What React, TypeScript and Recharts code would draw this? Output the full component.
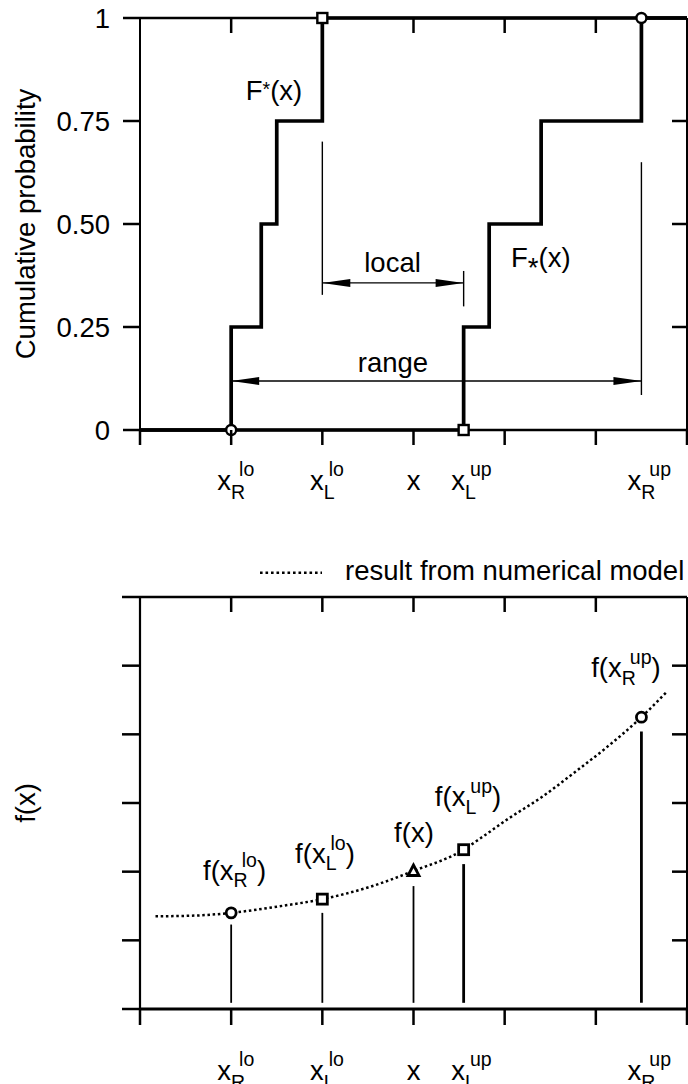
import React from 'react';
import { ComposedChart, Line, Scatter, XAxis, YAxis, ReferenceLine, Legend } from 'recharts';

const FONT = '"Liberation Sans", Arial, Helvetica, sans-serif';
const MAIN_SIZE = 27.5;
const SMALL_SIZE = 19.5;
const INK = '#000';

// plot frame shared by both panels
const CHART_W = 688;
const AXIS_W = 140;
const FRAME_TICK = 15;

// ---- shared x layout: six equal units ----
const xMax = 6;
const xOuterTicks = [0, 1, 2, 3, 4, 5, 6];
const xInnerTicks = [1, 2, 3, 4, 5];

// interval bounds on the x axis and their labels
const boundX = [1.0, 2.0, 3.0, 3.55, 5.5];
const boundSub = ['R', 'L', '', 'L', 'R'];
const boundSup = ['lo', 'lo', '', 'up', 'up'];
const xAxisTicks = Array.from(new Set([...xOuterTicks, ...boundX])).sort((a, b) => a - b);

// ---- upper panel: bounds of the cumulative distribution ----
const pMax = 1;
const pTicks = [0, 0.25, 0.5, 0.75, 1];
const pTickLabels = ['0', '0.25', '0.50', '0.75', '1'];
const pInnerTicks = [0.25, 0.5, 0.75];

const upperStepX = [0, 1.0, 1.33, 1.5, 2.0, 6];
const upperStepP = [0, 0.25, 0.5, 0.75, 1, 1];
const lowerStepX = [0, 3.55, 3.83, 4.4, 5.5, 6];
const lowerStepP = [0, 0.25, 0.5, 0.75, 1, 1];

const cdfMarkX = [1.0, 2.0, 3.55, 5.5];
const cdfMarkP = [0, 1, 0, 1];
const cdfMarkShape = ['circle', 'square', 'square', 'circle'];

// dimension lines for the local and range intervals
const localP = 0.357;
const localFrom = 2.0;
const localTo = 3.55;
const rangeP = 0.119;
const rangeFrom = 1.0;
const rangeTo = 5.5;
const extensionX = [2.0, 3.55, 5.5];
const extensionLow = [0.328, 0.3, 0.085];
const extensionHigh = [0.7, 0.386, 0.65];

// text annotations of the upper panel
const cdfNoteX = [1.47, 4.396, 2.77, 2.775];
const cdfNoteP = [0.801, 0.396, 0.384, 0.1415];
const cdfNoteBase = ['F', 'F', 'local', 'range'];
const cdfNoteSup = ['*', '', '', ''];
const cdfNoteSub = ['', '*', '', ''];
const cdfNotePost = ['(x)', '(x)', '', ''];

// ---- lower panel: model response ----
const fMax = 6;
const fTicks = [0, 1, 2, 3, 4, 5, 6];
const fInnerTicks = [1, 2, 3, 4, 5];
const curveX = [0.17, 0.6, 1.0, 1.5, 2.0, 2.5, 3.0, 3.55, 3.75, 4.05, 4.4, 4.8, 5.1, 5.5, 5.78];
const curveF = [1.35, 1.36, 1.4, 1.49, 1.6, 1.77, 2.01, 2.32, 2.5, 2.78, 3.08, 3.48, 3.79, 4.25, 4.62];

const sampleF = [1.4, 1.6, 2.01, 2.32, 4.25];
const sampleShape = ['circle', 'square', 'triangle', 'square', 'circle'];
const stemBaseF = 0.09;
const stemTopF = [1.23, 1.4, 1.79, 2.11, 4.04];

const fLabelX = [1.037, 2.029, 3.005, 3.598, 5.33];
const fLabelF = [1.88, 2.127, 2.43, 2.95, 4.83];

// ---- rows built from the arrays ----
const upperStepData = upperStepX.map((x, i) => ({ x, p: upperStepP[i] }));
const lowerStepData = lowerStepX.map((x, i) => ({ x, p: lowerStepP[i] }));
const cdfMarks = cdfMarkX.map((x, i) => ({ x, p: cdfMarkP[i], shape: cdfMarkShape[i] }));
const arrowHeads = [
  { x: localFrom, p: localP, dir: 'left' },
  { x: localTo, p: localP, dir: 'right' },
  { x: rangeFrom, p: rangeP, dir: 'left' },
  { x: rangeTo, p: rangeP, dir: 'right' },
];
const cdfNotes = cdfNoteX.map((x, i) => ({
  x,
  p: cdfNoteP[i],
  base: cdfNoteBase[i],
  sup: cdfNoteSup[i],
  sub: cdfNoteSub[i],
  post: cdfNotePost[i],
}));
const curveData = curveX.map((x, i) => ({ x, f: curveF[i] }));
const samples = boundX.map((x, i) => ({ x, f: sampleF[i], shape: sampleShape[i] }));
const sampleNotes = fLabelX.map((x, i) => ({ x, f: fLabelF[i], sub: boundSub[i], sup: boundSup[i] }));

// anchor points of the inward ticks on the top and right frame edges
function frameTickAnchors(key: string, yMax: number, yInner: number[]) {
  const top = xInnerTicks.map((t) => ({ x: t, [key]: yMax, edge: 'top' }));
  const right = yInner.map((v) => ({ x: xMax, [key]: v, edge: 'right' }));
  return [...top, ...right];
}
const cdfFrameTicks = frameTickAnchors('p', pMax, pInnerTicks);
const responseFrameTicks = frameTickAnchors('f', fMax, fInnerTicks);

// ---- text with stacked sub/superscripts ----
type MathProps = {
  x: number;
  y: number;
  anchor?: 'start' | 'middle' | 'end';
  pre?: string;
  base: string;
  sub?: string;
  sup?: string;
  post?: string;
  subDy?: number;
  supDy?: number;
  subSize?: number;
  supSize?: number;
  backDx?: number;
};

function MathText({
  x, y, anchor = 'middle', pre = '', base, sub = '', sup = '', post = '',
  subDy = 8, supDy = -14, subSize = SMALL_SIZE, supSize = SMALL_SIZE, backDx = -6,
}: MathProps) {
  let off = 0;
  const parts: React.ReactNode[] = [<tspan key="b">{pre + base}</tspan>];
  if (sub) {
    parts.push(<tspan key="sub" dy={subDy - off} fontSize={subSize}>{sub}</tspan>);
    off = subDy;
  }
  if (sup) {
    parts.push(
      <tspan key="sup" dx={sub ? backDx : 0} dy={supDy - off} fontSize={supSize}>{sup}</tspan>
    );
    off = supDy;
  }
  if (post) {
    parts.push(<tspan key="post" dy={-off}>{post}</tspan>);
  }
  return (
    <text x={x} y={y} textAnchor={anchor} fontFamily={FONT} fontSize={MAIN_SIZE} fill={INK}>
      {parts}
    </text>
  );
}

const SUB_WIDTH: Record<string, number> = { R: 0.722, L: 0.556 };

// x axis tick: outward mark below and bound label
function XTick(props: any) {
  const { payload, drop, outLen } = props;
  const x = Number(props.x);
  const y = Number(props.y);
  const v = Number(payload?.value);
  const bi = boundX.indexOf(v);
  const sub = bi >= 0 ? boundSub[bi] : '';
  const sup = bi >= 0 ? boundSup[bi] : '';
  const subW = sub ? (SUB_WIDTH[sub] ?? 0.6) * SMALL_SIZE : 0;
  const start = x - (0.5 * MAIN_SIZE + subW) / 2;
  return (
    <g>
      {xOuterTicks.includes(v) && <line x1={x} x2={x} y1={y} y2={y + outLen} stroke={INK} strokeWidth={2.5} />}
      {bi >= 0 && (
        <MathText x={start} y={y + drop} anchor="start" base="x" sub={sub} sup={sup} subDy={9} supDy={-14.5} />
      )}
    </g>
  );
}

// y axis tick: outward mark on the left and value label
function YTick(props: any) {
  const { payload, values, labels, outLen } = props;
  const x = Number(props.x);
  const y = Number(props.y);
  const v = Number(payload?.value);
  const i = values.indexOf(v);
  const label = labels && i >= 0 ? labels[i] : '';
  return (
    <g>
      <line x1={x - outLen} x2={x} y1={y} y2={y} stroke={INK} strokeWidth={2.5} />
      {label && (
        <text x={x - outLen - 13} y={y} dy="0.355em" textAnchor="end" fontFamily={FONT} fontSize={MAIN_SIZE} fill={INK}>
          {label}
        </text>
      )}
    </g>
  );
}

// inward tick on the top or right frame edge
function FrameTick(props: any) {
  const { cx, cy, payload } = props;
  if (cx == null || cy == null) return <g />;
  if (payload.edge === 'top') {
    return <line x1={cx} x2={cx} y1={cy} y2={cy + FRAME_TICK} stroke={INK} strokeWidth={2.5} />;
  }
  return <line x1={cx - FRAME_TICK} x2={cx} y1={cy} y2={cy} stroke={INK} strokeWidth={2.5} />;
}

function AxisTitle(props: any) {
  const { viewBox, text } = props;
  const cx = (viewBox?.x ?? 0) + 35;
  const cy = (viewBox?.y ?? 0) + (viewBox?.height ?? 0) / 2;
  return (
    <text
      x={cx}
      y={cy}
      transform={`rotate(-90, ${cx}, ${cy})`}
      textAnchor="middle"
      fontFamily={FONT}
      fontSize={MAIN_SIZE}
      fill={INK}
    >
      {text}
    </text>
  );
}

function Marker(props: any) {
  const { cx, cy, payload, sw = 2.5 } = props;
  if (cx == null || cy == null) return <g />;
  const s = payload.shape;
  if (s === 'circle') return <circle cx={cx} cy={cy} r={5} fill="#fff" stroke={INK} strokeWidth={sw} />;
  if (s === 'square')
    return <rect x={cx - 5} y={cy - 5} width={10} height={10} fill="#fff" stroke={INK} strokeWidth={sw} />;
  return (
    <polygon
      points={`${cx},${cy - 6} ${cx - 5.5},${cy + 4.5} ${cx + 5.5},${cy + 4.5}`}
      fill="#fff"
      stroke={INK}
      strokeWidth={sw}
      strokeLinejoin="miter"
    />
  );
}

function ArrowHead(props: any) {
  const { cx, cy, payload } = props;
  if (cx == null || cy == null) return <g />;
  const d = payload.dir === 'left' ? 1 : -1;
  return <polygon points={`${cx},${cy} ${cx + d * 28},${cy - 4} ${cx + d * 28},${cy + 4}`} fill={INK} />;
}

function CdfNote(props: any) {
  const { cx, cy, payload } = props;
  if (cx == null || cy == null) return <g />;
  return (
    <MathText
      x={cx}
      y={cy}
      base={payload.base}
      sup={payload.sup}
      sub={payload.sub}
      post={payload.post}
      supDy={-4}
      supSize={SMALL_SIZE}
      subDy={10}
      subSize={MAIN_SIZE}
    />
  );
}

function SampleNote(props: any) {
  const { cx, cy, payload } = props;
  if (cx == null || cy == null) return <g />;
  return (
    <MathText x={cx} y={cy} pre="f(" base="x" sub={payload.sub} sup={payload.sup} post=")" subDy={7.5} supDy={-13} />
  );
}

function ModelLegend() {
  return (
    <svg width={440} height={34} style={{ display: 'block' }}>
      <line x1={10} x2={72} y1={17.7} y2={17.7} stroke={INK} strokeWidth={2.6} strokeDasharray="2.6 2.9" />
      <text x={95} y={25} fontFamily={FONT} fontSize={MAIN_SIZE} fill={INK}>
        result from numerical model
      </text>
    </svg>
  );
}

const lineStyle = (w: number) => ({ stroke: INK, strokeWidth: w });

function CdfPanel() {
  return (
    <ComposedChart width={CHART_W} height={505} margin={{ top: 18, right: 1, bottom: 60, left: 0 }}>
      <XAxis
        xAxisId={0}
        dataKey="x"
        type="number"
        domain={[0, xMax]}
        ticks={xAxisTicks}
        interval={0}
        tickSize={0}
        tickMargin={0}
        tickLine={false}
        height={15}
        axisLine={lineStyle(2.5)}
        tick={<XTick drop={60} outLen={15} />}
      />
      <XAxis
        xAxisId="top"
        orientation="top"
        mirror
        type="number"
        domain={[0, xMax]}
        allowDataOverflow
        tick={false}
        tickLine={false}
        axisLine={lineStyle(2.5)}
      />
      <YAxis
        yAxisId={0}
        type="number"
        domain={[0, pMax]}
        ticks={pTicks}
        interval={0}
        width={AXIS_W}
        tickSize={0}
        tickMargin={0}
        tickLine={false}
        axisLine={lineStyle(2)}
        tick={<YTick values={pTicks} labels={pTickLabels} outLen={17} />}
        label={<AxisTitle text="Cumulative probability" />}
      />
      <YAxis
        yAxisId="r"
        orientation="right"
        mirror
        type="number"
        domain={[0, pMax]}
        allowDataOverflow
        tick={false}
        tickLine={false}
        axisLine={lineStyle(2)}
      />

      {extensionX.map((x, i) => (
        <ReferenceLine
          key={`ext-${i}`}
          segment={[{ x, y: extensionLow[i] }, { x, y: extensionHigh[i] }]}
          stroke={INK}
          strokeWidth={1.4}
        />
      ))}
      <ReferenceLine
        segment={[{ x: localFrom, y: localP }, { x: localTo, y: localP }]}
        stroke={INK}
        strokeWidth={1.4}
      />
      <ReferenceLine
        segment={[{ x: rangeFrom, y: rangeP }, { x: rangeTo, y: rangeP }]}
        stroke={INK}
        strokeWidth={1.4}
      />

      <Line
        data={upperStepData}
        dataKey="p"
        type="stepAfter"
        stroke={INK}
        strokeWidth={3.7}
        strokeLinejoin="miter"
        dot={false}
        activeDot={false}
        isAnimationActive={false}
      />
      <Line
        data={lowerStepData}
        dataKey="p"
        type="stepAfter"
        stroke={INK}
        strokeWidth={3.7}
        strokeLinejoin="miter"
        dot={false}
        activeDot={false}
        isAnimationActive={false}
      />
      <Scatter data={cdfFrameTicks} dataKey="p" shape={<FrameTick />} isAnimationActive={false} />
      <Scatter data={arrowHeads} dataKey="p" shape={<ArrowHead />} isAnimationActive={false} />
      <Scatter data={cdfMarks} dataKey="p" shape={<Marker sw={2.4} />} isAnimationActive={false} />
      <Scatter data={cdfNotes} dataKey="p" shape={<CdfNote />} isAnimationActive={false} />
    </ComposedChart>
  );
}

function ResponsePanel() {
  return (
    <ComposedChart width={CHART_W} height={579} margin={{ top: 92, right: 1, bottom: 59, left: 0 }}>
      <XAxis
        xAxisId={0}
        dataKey="x"
        type="number"
        domain={[0, xMax]}
        ticks={xAxisTicks}
        interval={0}
        tickSize={0}
        tickMargin={0}
        tickLine={false}
        height={16}
        axisLine={lineStyle(3)}
        tick={<XTick drop={71} outLen={16} />}
      />
      <XAxis
        xAxisId="top"
        orientation="top"
        mirror
        type="number"
        domain={[0, xMax]}
        allowDataOverflow
        tick={false}
        tickLine={false}
        axisLine={lineStyle(2.5)}
      />
      <YAxis
        yAxisId={0}
        type="number"
        domain={[0, fMax]}
        ticks={fTicks}
        interval={0}
        width={AXIS_W}
        tickSize={0}
        tickMargin={0}
        tickLine={false}
        axisLine={lineStyle(2.2)}
        tick={<YTick values={fTicks} labels={null} outLen={18} />}
        label={<AxisTitle text="f(x)" />}
      />
      <YAxis
        yAxisId="r"
        orientation="right"
        mirror
        type="number"
        domain={[0, fMax]}
        allowDataOverflow
        tick={false}
        tickLine={false}
        axisLine={lineStyle(2)}
      />
      <Legend
        layout="vertical"
        align="center"
        verticalAlign="middle"
        wrapperStyle={{ position: 'absolute', left: 250, top: 50, width: 440, height: 34 }}
        content={() => <ModelLegend />}
      />

      {boundX.map((x, i) => (
        <ReferenceLine
          key={`stem-${i}`}
          segment={[{ x, y: stemBaseF }, { x, y: stemTopF[i] }]}
          stroke={INK}
          strokeWidth={boundSup[i] === 'up' ? 2.8 : 1.8}
        />
      ))}

      <Line
        data={curveData}
        dataKey="f"
        type="monotone"
        stroke={INK}
        strokeWidth={2.5}
        strokeDasharray="2.5 2.7"
        dot={false}
        activeDot={false}
        isAnimationActive={false}
        legendType="none"
      />
      <Scatter data={responseFrameTicks} dataKey="f" shape={<FrameTick />} isAnimationActive={false} legendType="none" />
      <Scatter data={samples} dataKey="f" shape={<Marker sw={2.8} />} isAnimationActive={false} legendType="none" />
      <Scatter data={sampleNotes} dataKey="f" shape={<SampleNote />} isAnimationActive={false} legendType="none" />
    </ComposedChart>
  );
}

export default function App() {
  return (
    <div
      style={{
        position: 'absolute',
        left: 0,
        top: 0,
        width: CHART_W,
        height: 1084,
        overflow: 'hidden',
        background: '#fff',
      }}
    >
      <CdfPanel />
      <ResponsePanel />
    </div>
  );
}
